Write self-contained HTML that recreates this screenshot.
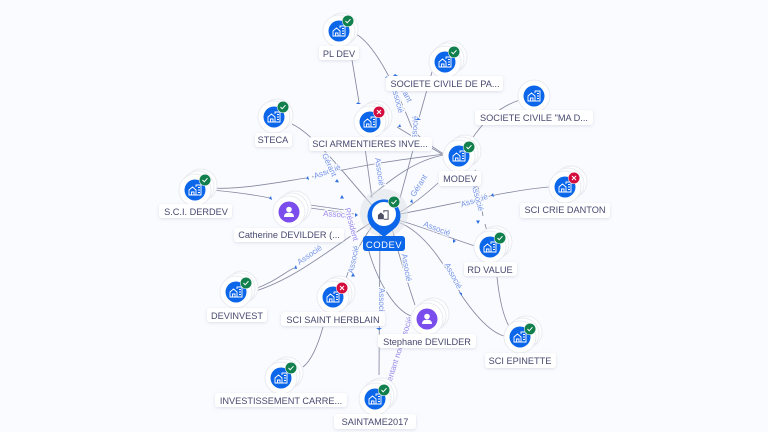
<!DOCTYPE html>
<html><head><meta charset="utf-8">
<style>
html,body{margin:0;padding:0;background:#f9fbff;}
svg{display:block;font-family:"Liberation Sans",sans-serif;}
.e{fill:none;stroke:#85889f;stroke-width:.85;}
.l,.p{font-size:8px;text-anchor:middle;paint-order:stroke;stroke:#f9fbff;stroke-width:2.5px;}
.l{fill:#7694e6;}
.p{fill:#9a86ea;}
.a{fill:#2f6fe0;}
.n{font-size:9.2px;fill:#47496f;text-anchor:middle;}
.b{fill:#fff;filter:url(#s);}
.w{fill:#fff;stroke:#e9ebf1;stroke-width:1;}
</style></head><body>
<svg width="768" height="432" viewBox="0 0 768 432" xmlns="http://www.w3.org/2000/svg">
<defs>
<filter id="s" x="-20%" y="-40%" width="140%" height="180%"><feDropShadow dx="0" dy="1" stdDeviation="1.5" flood-color="#9aa0b8" flood-opacity=".3"/></filter>
<g id="ic" fill="none" stroke="#fff" stroke-width=".9"><path d="M-6 5V0L-2.500-3 1 0V5ZM-3.500 5V2H-1V5M1-3V-5H6V5H1M3-2.500H5M3 0H5M3 2.500H5"/></g>
<g id="co"><circle cx="6" cy="-5" r="16" class="w"/><circle cx="3" cy="-3" r="16" class="w"/></g>
<g id="co1"><circle cx="3" cy="-2" r="16" class="w"/></g>
<g id="no"><circle r="16" class="w"/><circle r="10.500" fill="#0b66ea"/><use href="#ic"/></g>
<g id="ok"><circle r="6" fill="#fff"/><circle r="5.500" fill="#11804d"/><path d="M-2.500 0L-.8 1.800 2.500-1.800" fill="none" stroke="#fff" stroke-width="1"/></g>
<g id="ko"><circle r="6" fill="#fff"/><circle r="5.500" fill="#d40d3f"/><path d="M-2-2L2 2M2-2L-2 2" fill="none" stroke="#fff" stroke-width="1"/></g>
<g id="pe"><circle cx="6" cy="-5" r="16" class="w"/><circle cx="3" cy="-3" r="16" class="w"/><circle r="16" class="w"/><circle r="10.500" fill="#7a4dec"/><circle cy="-2.500" r="2.800" fill="#fff"/><path d="M-5 5C-5 1-2 .8 0 .8S5 1 5 5Z" fill="#fff"/></g>
</defs>
<rect width="768" height="432" fill="#f9fbff"/>

<!-- edges -->
<path class="e" d="M356 34C375 45 395 85 412 128C420 140 435 148 445 155"/>
<path class="e" d="M352 60L359 102"/>
<path class="e" d="M432 72L419 118M413 150L400 198"/>
<path class="e" d="M292 124C315 135 345 175 372 205"/>
<path class="e" d="M365 148L372 198"/>
<path class="e" d="M397 127L445 156"/>
<path class="e" d="M520 100C500 106 482 122 470 142"/>
<path class="e" d="M444 155C415 160 390 180 370 197"/>
<path class="e" d="M438 183C425 195 412 205 400 212"/>
<path class="e" d="M444 154C400 160 370 163 312 177"/>
<path class="e" d="M475 170L483 216M485 224L487 231"/>
<path class="e" d="M497 277C500 305 505 320 510 328"/>
<path class="e" d="M549 187C510 190 450 205 400 214"/>
<path class="e" d="M211 188C240 190 280 182 306 178"/>
<path class="e" d="M211 190C235 192 255 195 270 198"/>
<path class="e" d="M310 208L354 214"/>
<path class="e" d="M310 205L345 210"/>
<path class="e" d="M252 292C295 280 335 245 372 222"/>
<path class="e" d="M252 290C275 282 285 272 294 268"/>
<path class="e" d="M345 282C350 265 355 250 373 225"/>
<path class="e" d="M380 228L379 375"/>
<path class="e" d="M366 240C375 280 395 310 411 316"/>
<path class="e" d="M392 228C400 260 410 290 415 305"/>
<path class="e" d="M398 220C420 226 450 238 475 246"/>
<path class="e" d="M398 222C425 232 445 265 462 296C475 315 490 332 504 336"/>
<path class="e" d="M323 327C318 345 312 360 303 367"/>

<!-- edge labels -->
<g class="l">
<text transform="translate(402 92) rotate(62)">Gérant</text>
<text transform="translate(395 100) rotate(75)">Associé</text>
<text transform="translate(417 130) rotate(-85)">Associé</text>
<text transform="translate(328 174) rotate(-20)">Associé</text>
<text transform="translate(327 166) rotate(65)">Gérant</text>
<text transform="translate(377 172) rotate(82)">Associé</text>
<text transform="translate(421 187) rotate(-58)">Gérant</text>
<text transform="translate(475 203) rotate(-18)">Associé</text>
<text transform="translate(475 198) rotate(75)">Associé</text>
<text transform="translate(436 231) rotate(21)">Associé</text>
<text transform="translate(451 277) rotate(62)">Associé</text>
<text transform="translate(404 268) rotate(80)">Associé</text>
<text transform="translate(379 302) rotate(90)">Associé</text>
<text transform="translate(356 260) rotate(-78)">Associé</text>
<text transform="translate(311 257) rotate(-35)">Associé</text>
</g>
<g class="p">
<text x="337" y="217" transform="rotate(4 337 217)">Associé</text>
<text transform="translate(349 225) rotate(75)">Président</text>
<text transform="translate(398 362) rotate(-72)">Représentant non associé</text>
</g>

<!-- arrowheads -->
<g class="a">
<path d="M358 102l3 2h-5zM387 76l3 2h-5zM395 74l3 2h-5zM418 118l3 2h-5zM398 127l2-3 1 3z"/>
<path d="M308 176l1 4-3-1.500zM337 179l2 3.500-4-.5zM271 196l1 4-3-1.500zM342 195l2 3.500-4 0zM358 215l-3 2v-4z"/>
<path d="M296 265l1 4-3-.5zM353 273l2 3.500-4 0zM379 330l3-2h-6zM412 199l1 4-3-1z"/>
<path d="M493 193l1 4-3-1.500zM478 224l2-3.500-4 0zM456 241l-3-2 0 4zM462 296l-3-3.500 3 .5z"/>
</g>

<!-- nodes -->
<use href="#co1" x="339" y="31"/><use href="#no" x="339" y="31"/><use href="#ok" x="348" y="21"/>
<use href="#co" x="445" y="62"/><use href="#no" x="445" y="62"/><use href="#ok" x="454" y="52"/>
<use href="#no" x="534" y="96"/>
<use href="#co1" x="274" y="117"/><use href="#no" x="274" y="117"/><use href="#ok" x="283" y="107"/>
<use href="#co" x="370" y="122"/><use href="#no" x="370" y="122"/><use href="#ko" x="379" y="112"/>
<use href="#co" x="459" y="156"/><use href="#no" x="459" y="156"/><use href="#ok" x="469" y="147"/>
<use href="#co" x="565" y="187"/><use href="#no" x="565" y="187"/><use href="#ko" x="574" y="178"/>
<use href="#co" x="195" y="190"/><use href="#no" x="195" y="190"/><use href="#ok" x="205" y="180"/>
<use href="#pe" x="289" y="212"/>
<use href="#co" x="490" y="247"/><use href="#no" x="490" y="247"/><use href="#ok" x="500" y="238"/>
<use href="#co" x="236" y="292"/><use href="#no" x="236" y="292"/><use href="#ok" x="246" y="283"/>
<use href="#co" x="333" y="297"/><use href="#no" x="333" y="297"/><use href="#ko" x="342" y="288"/>
<use href="#pe" x="427" y="319"/>
<use href="#co" x="520" y="337"/><use href="#no" x="520" y="337"/><use href="#ok" x="530" y="329"/>
<use href="#co" x="281" y="378"/><use href="#no" x="281" y="378"/><use href="#ok" x="291" y="368"/>
<use href="#co" x="375" y="399"/><use href="#no" x="375" y="399"/><use href="#ok" x="384" y="390"/>

<!-- CODEV pin -->
<circle cx="384" cy="213" r="24" fill="#dfe1e6" opacity=".55"/>
<path d="M384 237L374 229A16.500 16.500 0 1 1 394 229Z" fill="#0b66ea"/>
<circle cx="384" cy="214" r="12" fill="#fff"/>
<g transform="translate(383 215) scale(.85)"><path d="M-6 5V0L-2.500-3 1 0V5Z" fill="#4c4f63"/><path d="M1-3V-5H6V5H1" fill="none" stroke="#4c4f63" stroke-width="1.200"/></g>
<use href="#ok" x="394" y="202"/>
<rect x="363" y="236" width="42" height="15" rx="3" fill="#0b66ea"/>
<text x="384" y="248" font-size="9.500" fill="#fff" text-anchor="middle" letter-spacing=".5">CODEV</text>

<!-- labels -->
<g class="b">
<rect x="319" y="46" width="40" height="14" rx="3"/>
<rect x="386" y="76" width="117" height="15" rx="3"/>
<rect x="475" y="110" width="118" height="15" rx="3"/>
<rect x="255" y="133" width="37" height="14" rx="3"/>
<rect x="309" y="137" width="123" height="14" rx="3"/>
<rect x="439" y="171" width="42" height="15" rx="3"/>
<rect x="520" y="203" width="90" height="15" rx="3"/>
<rect x="159" y="204" width="73" height="14" rx="3"/>
<rect x="234" y="228" width="110" height="14" rx="3"/>
<rect x="464" y="262" width="53" height="14" rx="3"/>
<rect x="207" y="308" width="60" height="14" rx="3"/>
<rect x="281" y="312" width="104" height="14" rx="3"/>
<rect x="378" y="334" width="98" height="14" rx="3"/>
<rect x="485" y="353" width="71" height="15" rx="3"/>
<rect x="215" y="393" width="132" height="14" rx="3"/>
<rect x="334" y="414" width="82" height="15" rx="3"/>
</g>
<g class="n">
<text x="339" y="57">PL DEV</text>
<text x="445" y="87">SOCIETE CIVILE DE PA...</text>
<text x="534" y="121">SOCIETE CIVILE "MA D...</text>
<text x="273" y="143">STECA</text>
<text x="370" y="147">SCI ARMENTIERES INVE...</text>
<text x="460" y="182">MODEV</text>
<text x="565" y="213">SCI CRIE DANTON</text>
<text x="196" y="215">S.C.I. DERDEV</text>
<text x="289" y="238">Catherine DEVILDER (...</text>
<text x="490" y="273">RD VALUE</text>
<text x="237" y="319">DEVINVEST</text>
<text x="333" y="323">SCI SAINT HERBLAIN</text>
<text x="427" y="345">Stephane DEVILDER</text>
<text x="520" y="364">SCI EPINETTE</text>
<text x="281" y="404">INVESTISSEMENT CARRE...</text>
<text x="375" y="425">SAINTAME2017</text>
</g>
</svg>
</body></html>
